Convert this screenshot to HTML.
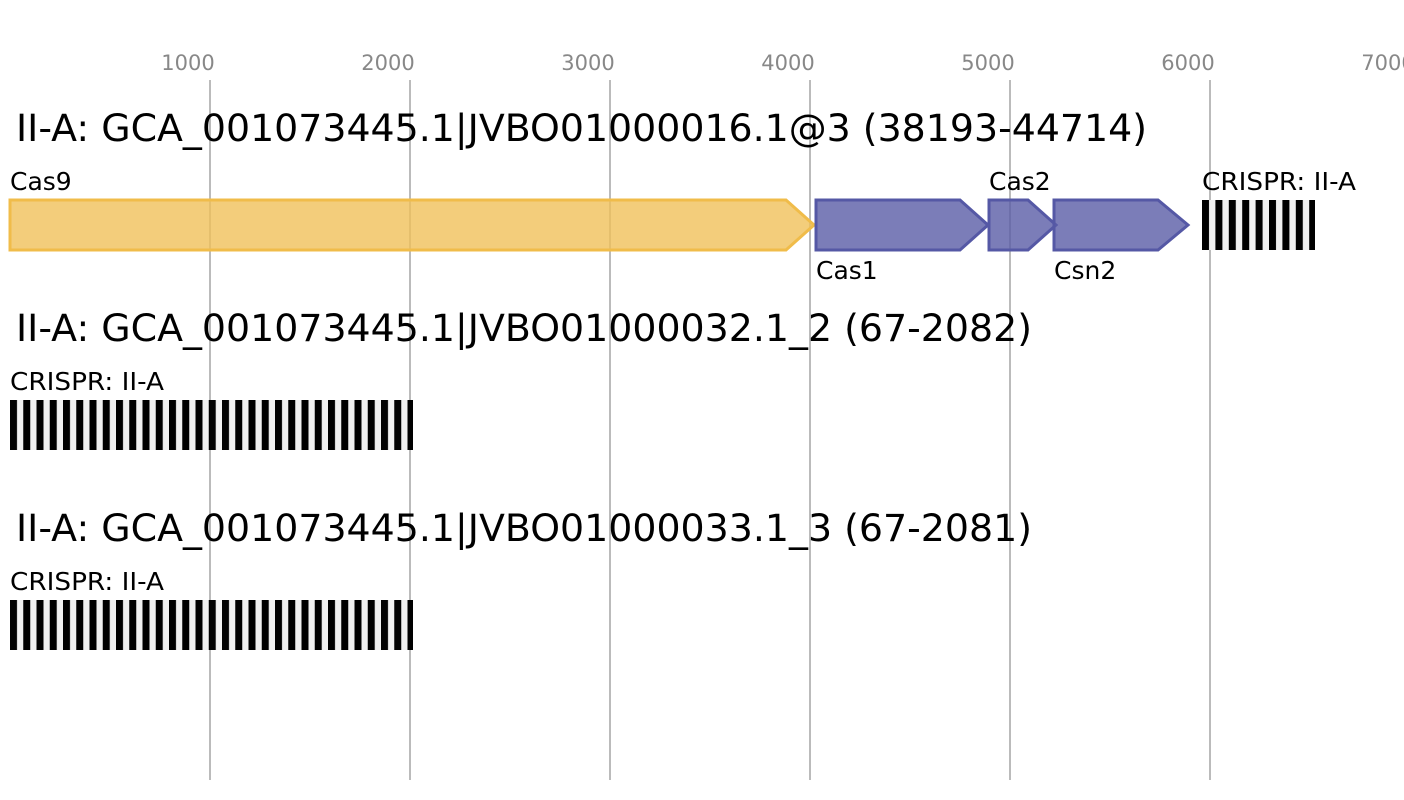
<!DOCTYPE html>
<html><head><meta charset="utf-8"><style>body{margin:0;background:#fff}svg{display:block}</style></head><body>
<svg width="1404" height="800" xmlns="http://www.w3.org/2000/svg" font-family="DejaVu Sans, Liberation Sans, sans-serif">
<defs>
<pattern id="cr" x="10" y="0" width="13.25" height="50" patternUnits="userSpaceOnUse">
<rect width="13.25" height="50" fill="#f0f0f0"/><rect width="7" height="50" fill="#000"/>
</pattern>
<pattern id="cr2" x="1202" y="0" width="13.4" height="50" patternUnits="userSpaceOnUse">
<rect width="13.4" height="50" fill="#f0f0f0"/><rect width="7" height="50" fill="#000"/>
</pattern>
</defs>
<g stroke="#bbb" stroke-width="2">
<line x1="210" y1="80" x2="210" y2="780"/><line x1="410" y1="80" x2="410" y2="780"/>
<line x1="610" y1="80" x2="610" y2="780"/><line x1="810" y1="80" x2="810" y2="780"/>
<line x1="1010" y1="80" x2="1010" y2="780"/><line x1="1210" y1="80" x2="1210" y2="780"/>
</g>
<g fill="#888" font-size="21" text-anchor="middle">
<text x="188" y="70">1000</text><text x="388" y="70">2000</text><text x="588" y="70">3000</text>
<text x="788" y="70">4000</text><text x="988" y="70">5000</text><text x="1188" y="70">6000</text><text x="1388" y="70">7000</text>
</g>
<g font-size="37.5" fill="#000">
<text x="16" y="141" textLength="1131" lengthAdjust="spacingAndGlyphs">II-A: GCA_001073445.1|JVBO01000016.1@3 (38193-44714)</text>
<text x="16" y="341" textLength="1016" lengthAdjust="spacingAndGlyphs">II-A: GCA_001073445.1|JVBO01000032.1_2 (67-2082)</text>
<text x="16" y="541" textLength="1016" lengthAdjust="spacingAndGlyphs">II-A: GCA_001073445.1|JVBO01000033.1_3 (67-2081)</text>
</g>
<g stroke-width="3" fill-opacity="0.8">
<polygon points="10,200 786,200 814,225 786,250 10,250" fill="#f0c15a" stroke="#f0bc4a"/>
<polygon points="816,200 960,200 988,225 960,250 816,250" fill="#5a5ca6" stroke="#5558a5"/>
<polygon points="989,200 1028,200 1056,225 1028,250 989,250" fill="#5a5ca6" stroke="#5558a5"/>
<polygon points="1054,200 1158,200 1188,225 1158,250 1054,250" fill="#5a5ca6" stroke="#5558a5"/>
</g>
<rect x="1202" y="200" width="113" height="50" fill="url(#cr2)"/>
<rect x="10" y="400" width="403" height="50" fill="url(#cr)"/>
<rect x="10" y="600" width="403" height="50" fill="url(#cr)"/>
<g font-size="25" fill="#000">
<text x="10" y="190">Cas9</text><text x="816" y="279">Cas1</text><text x="989" y="190">Cas2</text>
<text x="1054" y="279">Csn2</text><text x="1202" y="190" textLength="154" lengthAdjust="spacingAndGlyphs">CRISPR: II-A</text>
<text x="10" y="390" textLength="154" lengthAdjust="spacingAndGlyphs">CRISPR: II-A</text><text x="10" y="590" textLength="154" lengthAdjust="spacingAndGlyphs">CRISPR: II-A</text>
</g>
</svg>
</body></html>
